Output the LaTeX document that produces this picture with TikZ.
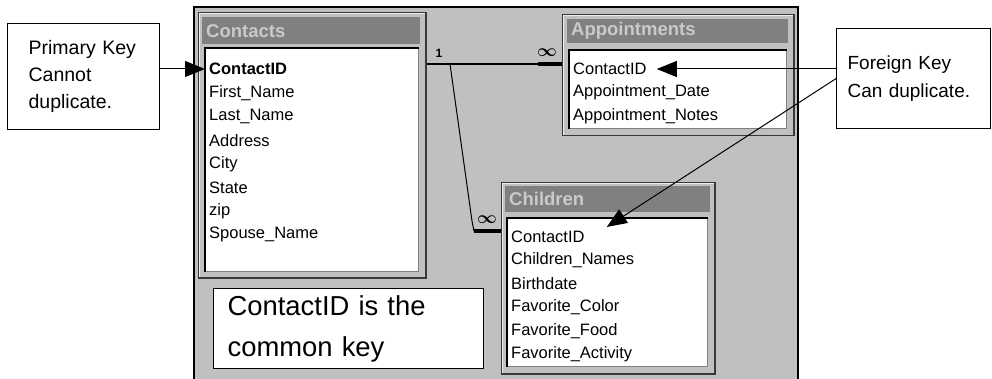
\documentclass[tikz,border=0pt]{standalone}
\usepackage{amsmath}
\usepackage{fontspec}
\setmainfont{Liberation Sans}
\usetikzlibrary{arrows.meta}

\definecolor{wingray}{HTML}{C0C0C0}
\definecolor{bargray}{HTML}{808080}
\definecolor{bartext}{HTML}{CACACA}
\definecolor{shadow}{HTML}{383838}
\definecolor{hilite}{HTML}{EEEEEE}
\newcommand\fieldfont{\fontsize{16.5}{18}\selectfont}

\begin{document}
\begin{tikzpicture}[x=1pt,y=-1pt]
  \tikzstyle{TableFrame}=[draw=shadow,line width=1.5pt,fill=wingray,anchor=north west,inner sep=0pt]
  \tikzstyle{Hilite}=[draw=hilite,line width=1.5pt]
  \tikzstyle{TitleBar}=[fill=bargray,anchor=north west,inner sep=0pt]
  \tikzstyle{TitleText}=[anchor=west,text=bartext,font=\fontsize{18.5}{20}\selectfont\bfseries,inner sep=0pt]
  \tikzstyle{FieldList}=[fill=white,draw=bargray,line width=1pt,anchor=north west,inner sep=0pt]
  \tikzstyle{Inset}=[line width=1.2pt]
  \tikzstyle{Field}=[anchor=west,font=\fieldfont,inner xsep=4pt,inner ysep=0pt]
  \tikzstyle{Note}=[draw=black,line width=1.2pt,fill=white,align=left,anchor=north west]
  \tikzstyle{Pointer}=[line width=1pt,-{Triangle[length=20pt,width=16pt]}]
  \tikzstyle{Join}=[line width=2.5pt]
  \tikzstyle{JoinEnd}=[line width=4.5pt]
  \useasboundingbox (0,0) rectangle (992,379);

  % window background
  \fill[wingray] (194,7) rectangle (798,379);
  \draw[line width=2.5pt] (194,381) -- (194,7) -- (798,7) -- (798,381);

  % Contacts
  \node[TableFrame,minimum width=227pt,minimum height=265pt] (contacts) at (198,12) {};
  \draw[Hilite] ([shift={(1.5,-1.5)}]contacts.south west) |- ([shift={(-1.5,1.5)}]contacts.north east);
  \node[TitleBar,minimum width=218pt,minimum height=27pt] (contactsbar) at (202,17) {};
  \node[TitleText] (contactstitle) at (206,31) {Contacts};
  \node[FieldList,minimum width=213pt,minimum height=223pt] (contactslist) at (205,48) {};
  \draw[Inset] (contactslist.south west) |- (contactslist.north east);
  \node[Field,font=\fieldfont\bfseries] (c1) at (205,69) {ContactID};
  \foreach \f [count=\i from 2] in {First\_Name,Last\_Name,Address,City,State,zip,Spouse\_Name}
    \node[Field] (c\i) at (205,{69.5+23.6*(\i-1)}) {\f};

  % Appointments
  \node[TableFrame,minimum width=231pt,minimum height=121pt] (appts) at (562,14) {};
  \draw[Hilite] ([shift={(1.5,-1.5)}]appts.south west) |- ([shift={(-1.5,1.5)}]appts.north east);
  \node[TitleBar,minimum width=221pt,minimum height=24pt] (apptsbar) at (567,19) {};
  \node[TitleText] (apptstitle) at (571,31) {Appointments};
  \node[FieldList,minimum width=217pt,minimum height=78pt] (apptslist) at (569,50) {};
  \draw[Inset] (apptslist.south west) |- (apptslist.north east);
  \foreach \f [count=\i] in {ContactID,Appointment\_Date,Appointment\_Notes}
    \node[Field] (a\i) at (569,{69+23.5*(\i-1)}) {\f};

  % Children
  \node[TableFrame,minimum width=213pt,minimum height=191pt] (children) at (501,182) {};
  \draw[Hilite] ([shift={(1.5,-1.5)}]children.south west) |- ([shift={(-1.5,1.5)}]children.north east);
  \node[TitleBar,minimum width=205pt,minimum height=26pt] (childrenbar) at (505,186) {};
  \node[TitleText] (childrentitle) at (509,199) {Children};
  \node[FieldList,minimum width=200pt,minimum height=148pt] (childrenlist) at (507,218) {};
  \draw[Inset] (childrenlist.south west) |- (childrenlist.north east);
  \foreach \f [count=\i] in {ContactID,Children\_Names,Birthdate,Favorite\_Color,Favorite\_Food,Favorite\_Activity}
    \node[Field] (k\i) at (507,{237+23.5*(\i-1)}) {\f};

  % relationships
  \coordinate (relrow) at (0,64);
  \coordinate (kidrow) at (0,231);
  \coordinate (fork) at (450,64);
  \draw[Join] (contacts.east |- relrow) -- (appts.west |- relrow);
  \draw[JoinEnd] (appts.west |- relrow) -- ++(-24,0);
  \draw[line width=1pt] (fork) -- ++(22,157) -- ++(2,10) -- (children.west |- kidrow);
  \draw[JoinEnd] (children.west |- kidrow) -- ++(-27,0);
  \node[font=\fontsize{12}{12}\selectfont\bfseries] (onelbl) at (439,53) {1};
  \node[font=\fontsize{16}{16}\selectfont] (manylbl) at (547,53) {$\boldsymbol{\infty}$};
  \node[font=\fontsize{16}{16}\selectfont] (kidmanylbl) at (487,220) {$\boldsymbol{\infty}$};

  % callouts
  \node[Note,minimum width=152pt,minimum height=106pt,text width=110pt,inner xsep=21pt,
        font=\fontsize{19.5}{27}\selectfont] (pk) at (7,23) {Primary Key\\Cannot\\duplicate.};
  \node[Note,minimum width=154pt,minimum height=100pt,text width=132pt,inner xsep=11pt,
        font=\fontsize{19}{28}\selectfont] (fk) at (836,28) {Foreign Key\\Can duplicate.};
  \node[Note,minimum width=270pt,minimum height=80pt,text width=242pt,inner xsep=14pt,
        font=\fontsize{27.4}{41}\selectfont] (common) at (213,288) {ContactID is the\\common key};
  \draw[Pointer] (pk.east |- c1) -- (c1.west);
  \draw[Pointer] (fk.west |- a1) -- ([xshift=6pt]a1.east);
  \draw[Pointer] (fk.west) -- ([xshift=18pt,yshift=4pt]k1.north east);
%  \draw[Pointer] (common) -- (k1);
\end{tikzpicture}
\end{document}
